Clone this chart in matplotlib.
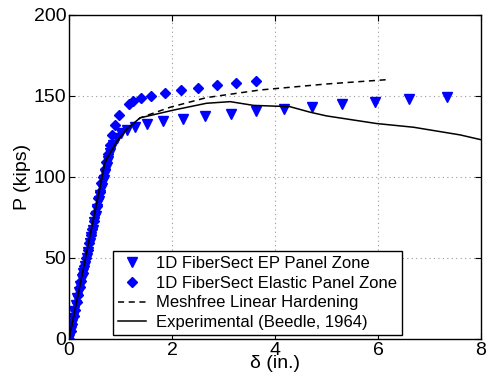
import matplotlib
matplotlib.use("Agg")
import matplotlib.pyplot as plt

# 1D FiberSect EP Panel Zone (triangles)
ep_x = [0.00, 0.03, 0.05, 0.08, 0.10, 0.13, 0.16, 0.19, 0.22, 0.25, 0.28, 0.31, 0.34,
        0.37, 0.40, 0.43, 0.46, 0.49, 0.52, 0.55, 0.58, 0.61, 0.64, 0.67, 0.70, 0.73,
        0.76, 0.80, 0.86, 0.93, 1.00, 1.12, 1.29, 1.51, 1.83, 2.21, 2.65, 3.14, 3.64,
        4.17, 4.72, 5.31, 5.94, 6.61, 7.33]
ep_y = [0, 5, 9, 13, 17, 21, 25, 29, 33, 37, 41, 45, 50,
        54, 59, 63, 67, 72, 76, 80, 85, 89, 93, 98, 102, 106,
        110, 115, 120, 124, 127, 129, 131, 133, 134.5, 136, 137.5, 139, 140.5,
        142, 143.5, 145, 146.5, 148, 149.5]

# 1D FiberSect Elastic Panel Zone (diamonds)
el_x = [0.00, 0.03, 0.06, 0.09, 0.12, 0.15, 0.18, 0.21, 0.24, 0.27, 0.30, 0.33, 0.36,
        0.39, 0.42, 0.45, 0.48, 0.51, 0.54, 0.57, 0.60, 0.63, 0.66, 0.69, 0.72, 0.75,
        0.79, 0.84, 0.90, 0.98, 1.16, 1.25, 1.39, 1.59, 1.86, 2.17, 2.50, 2.87, 3.24, 3.64]
el_y = [0, 5, 9, 14, 18, 23, 27, 32, 36, 41, 45, 50, 55,
        59, 64, 68, 73, 78, 82, 87, 91, 96, 100, 105, 109, 114,
        120, 126, 132, 138, 145, 147, 148.5, 150, 152, 153.5, 155, 156.5, 158, 159.5]

# Meshfree Linear Hardening (dashed)
mf_x = [0.0, 0.70, 0.93, 1.12, 1.38, 1.96, 2.67, 3.71, 5.00, 6.23]
mf_y = [0, 110, 122, 129.5, 136.5, 143, 149, 153.7, 157.4, 160.2]

# Experimental (Beedle, 1964) (solid)
ex_x = [0.0, 0.70, 0.93, 1.12, 1.38, 2.03, 2.67, 3.13, 3.58, 4.29, 4.68, 5.00, 5.97, 6.69, 7.59, 8.0]
ex_y = [0, 109, 122, 129.5, 136.5, 141.3, 145.5, 146.5, 144.2, 143.4, 140, 137.7, 133, 130.7, 126, 123]

plt.rcParams['font.family'] = ['Liberation Sans', 'DejaVu Sans']

fig = plt.figure(figsize=(4.88, 3.83), dpi=100)
ax = fig.add_axes([0.1414, 0.1149, 0.8443, 0.846])

ax.plot(ep_x, ep_y, linestyle='none', marker='v', color='#0000ff', markersize=7,
        label='1D FiberSect EP Panel Zone')
ax.plot(el_x, el_y, linestyle='none', marker='D', color='#0000ff', markersize=5.3,
        label='1D FiberSect Elastic Panel Zone')
ax.plot(mf_x, mf_y, linestyle='--', color='black', linewidth=1.1, dashes=(4, 3),
        label='Meshfree Linear Hardening')
ax.plot(ex_x, ex_y, linestyle='-', color='black', linewidth=1.1,
        label='Experimental (Beedle, 1964)')

ax.set_xlim(0, 8)
ax.set_ylim(0, 200)
ax.set_xticks([0, 2, 4, 6, 8])
ax.set_yticks([0, 50, 100, 150, 200])
ax.grid(True, linestyle=(0, (1, 3)), color='#999999', linewidth=0.8)
ax.tick_params(direction='in', top=True, right=True, labelsize=14, length=4, pad=2)
for s in ax.spines.values():
    s.set_linewidth(1.0)

ax.set_xlabel('δ (in.)', fontsize=14, labelpad=-3)
ax.set_ylabel('P (kips)', fontsize=14, labelpad=2)

leg = ax.legend(loc='lower left', bbox_to_anchor=(0.107, 0.012),
                fontsize=12, frameon=True, fancybox=False,
                edgecolor='black', framealpha=1, borderpad=0.3, labelspacing=0.28,
                handlelength=1.7, handletextpad=0.6, borderaxespad=0)
leg.get_frame().set_linewidth(1.0)

fig.savefig('out.png', dpi=100)
